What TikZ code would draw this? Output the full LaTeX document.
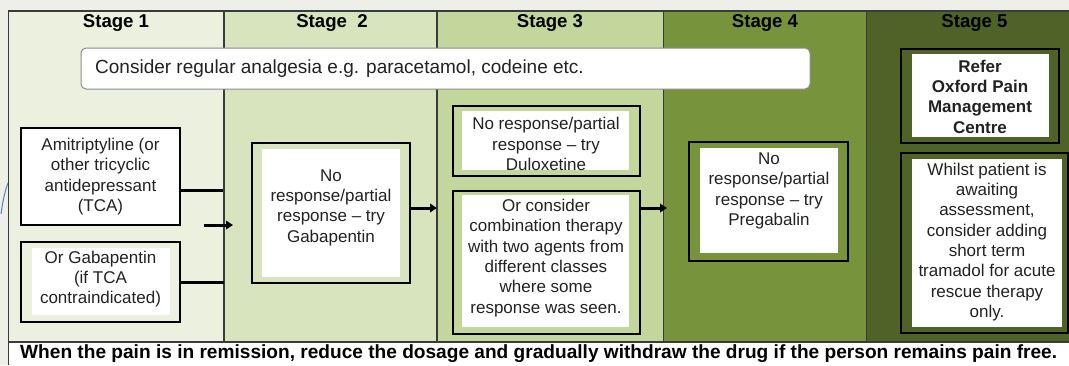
\documentclass[tikz,border=0pt]{standalone}
\usepackage{fontspec}
\setmainfont{Liberation Sans}
\usetikzlibrary{arrows.meta}
\definecolor{bgc}{HTML}{EFEFE9}
\definecolor{sA}{HTML}{EBF1DE}
\definecolor{sB}{HTML}{D7E4BD}
\definecolor{sC}{HTML}{C3D69B}
\definecolor{sD}{HTML}{77933C}
\definecolor{sE}{HTML}{4F6228}
\definecolor{txt}{HTML}{222222}
\definecolor{gridc}{HTML}{3A3A3A}
\definecolor{deco}{HTML}{5A7FC0}
\begin{document}
\begin{tikzpicture}[x=1pt,y=-1pt,
  obox/.style={draw=black, line width=2.8pt, inner sep=0pt, fill=#1},
  ibox/.style={fill=white, draw=none, inner sep=0pt},
  btxt/.style={inner sep=0pt, align=center, text=txt, font=\fontsize{17}{20.3}\selectfont},
  hdr/.style={inner sep=0pt, text=black, font=\fontsize{18.6}{20}\selectfont\bfseries},
  gridline/.style={draw=gridc, line width=1.3pt},
  frameline/.style={draw=gridc, line width=1.7pt},
  conn/.style={draw=black, line width=3pt},
  arr/.style={draw=black, line width=3pt, -{Triangle[length=7pt,width=8.5pt]}},
  consider/.style={draw=black!45, line width=1pt, fill=white, rounded corners=5pt, inner sep=0pt}
]
\useasboundingbox (0,0) rectangle (1069,365);
\fill[bgc] (0,0) rectangle (1069,365);
% decoration stroke
\draw[deco, line width=1pt] (1,214) .. controls (3,200) and (5,190) .. (8.5,182);
% columns
\fill[sA] (8.5,10.7) rectangle (224,342);
\fill[sB] (224,10.7) rectangle (437,342);
\fill[sC] (437,10.7) rectangle (663.5,342);
\fill[sD] (663.5,10.7) rectangle (866.5,342);
\fill[sE] (866.5,10.7) rectangle (1069,342);
\fill[white] (8.5,342) rectangle (1069,365);
\draw[gridline] (224,10.7) -- (224,342);
\draw[gridline] (437,10.7) -- (437,342);
\draw[gridline] (663.5,10.7) -- (663.5,342);
\draw[gridline] (866.5,10.7) -- (866.5,342);
\draw[frameline] (1069,10.7) -- (8.5,10.7) -- (8.5,365);
\draw[frameline] (8.5,342) -- (1069,342);
% headers
\node[hdr] (h1) at (116,22.5) {Stage 1};
\node[hdr] (h2) at (332,22.5) {Stage\ \ 2};
\node[hdr] (h3) at (550,22.5) {Stage 3};
\node[hdr] (h4) at (765,22.5) {Stage 4};
\node[hdr] (h5) at (974.5,22.5) {Stage 5};
% consider box
\node[consider, minimum width=729pt, minimum height=41pt] (cons) at (445.5,68.5) {};
\node[btxt, anchor=west, font=\fontsize{19}{22}\selectfont] (ctext) at (95,68.5) {Consider regular analgesia e.g. paracetamol, codeine etc.};
% Stage 1 boxes
\node[obox=white, minimum width=159pt, minimum height=97pt] (ami) at (100.5,176.5) {};
\node[btxt] (amit) at (100.5,176.5) {Amitriptyline (or\\other tricyclic\\antidepressant\\(TCA)};
\node[obox=sA, minimum width=159pt, minimum height=80pt] (gab1) at (100.5,282) {};
\node[ibox, minimum width=138pt, minimum height=67pt] (gab1i) at (101,281.5) {};
\node[btxt] (gab1t) at (100.5,279) {Or Gabapentin\\(if TCA\\contraindicated)};
% Stage 2 box
\node[obox=sB, minimum width=158pt, minimum height=140pt] (gab2) at (331,213) {};
\node[ibox, minimum width=138pt, minimum height=128pt] (gab2i) at (331,213) {};
\node[btxt] (gab2t) at (331,207.5) {No\\response/partial\\response – try\\Gabapentin};
% Stage 3 boxes
\node[obox=sC, minimum width=187pt, minimum height=70pt] (dul) at (546.5,141) {};
\node[ibox, minimum width=167pt, minimum height=59pt] (duli) at (545.5,140.5) {};
\node[btxt] (dult) at (546,144) {No response/partial\\response – try\\Duloxetine};
\node[obox=sC, minimum width=187pt, minimum height=143pt] (comb) at (546.5,262.5) {};
\node[ibox, minimum width=167pt, minimum height=132pt] (combi) at (545.5,261) {};
\node[btxt] (combt) at (546,258) {Or consider\\combination therapy\\with two agents from\\different classes\\where some\\response was seen.};
% Stage 4 box
\node[obox=sD, minimum width=159pt, minimum height=119pt] (preg) at (768.5,201.5) {};
\node[ibox, minimum width=138pt, minimum height=105pt] (pregi) at (769,200.5) {};
\node[btxt] (pregt) at (769,191) {No\\response/partial\\response – try\\Pregabalin};
% Stage 5 boxes
\node[obox=sE, minimum width=158pt, minimum height=94pt] (refer) at (980,96) {};
\node[ibox, minimum width=137pt, minimum height=83pt] (referi) at (980.5,95.5) {};
\node[btxt, font=\fontsize{17}{20.3}\selectfont\bfseries] (refert) at (980,96.5) {Refer\\Oxford Pain\\Management\\Centre};
\node[obox=sE, minimum width=167pt, minimum height=180pt] (whil) at (984.5,243) {};
\node[ibox, minimum width=150pt, minimum height=168pt] (whili) at (987,243) {};
\node[btxt] (whilt) at (987,242) {Whilst patient is\\awaiting\\assessment,\\consider adding\\short term\\tramadol for acute\\rescue therapy\\only.};
% connectors
\coordinate (j1) at (223,190);
\coordinate (j2) at (224,282);
\coordinate (a0) at (204,225);
\coordinate (a1) at (233,225);
\coordinate (a2) at (437,208);
\coordinate (a3) at (667,208);
\draw[conn] (ami.east |- j1) -- (j1);
\draw[conn] (gab1.east |- j2) -- (j2);
\draw[arr] (a0) -- (a1);
\draw[arr] (gab2.east |- a2) -- (a2);
\draw[arr] (comb.east |- a3) -- (a3);
% footer
\node[inner sep=0pt, anchor=west, font=\fontsize{19.1}{22}\selectfont\bfseries, text=black] (foot) at (20,353.5) {When the pain is in remission, reduce the dosage and gradually withdraw the drug if the person remains pain free.};
\end{tikzpicture}
\end{document}
